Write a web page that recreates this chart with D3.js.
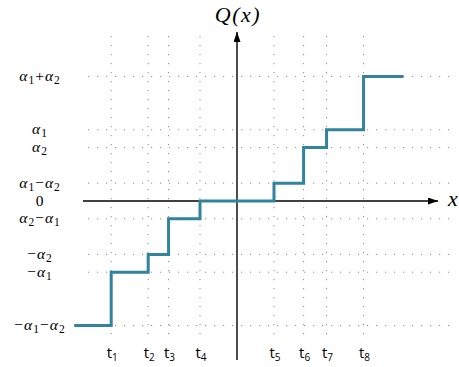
<!DOCTYPE html>
<html>
<head>
<meta charset="utf-8">
<script src="https://cdn.jsdelivr.net/npm/d3@7/dist/d3.min.js"></script>
<style>
  html, body { margin: 0; padding: 0; background: #fff; }
  svg { display: block; }
</style>
</head>
<body>
<svg id="chart" width="459" height="367"></svg>
<script>
// ---- data ----
const tLabels = ["1", "2", "3", "4", "5", "6", "7", "8"];          // subscripts of t
const tValues = [-3.4, -2.4, -1.85, -1.0, 1.0, 1.8, 2.42, 3.42];   // jump positions
const stepStart = -4.4;
const stepEnd = 4.5;
const levels = [-7, -4, -3, -1, 0, 1, 3, 4, 7];                  // Q between jumps (α1=4, α2=3)
const levelValues = [7, 4, 3, 1, 0, -1, -3, -4, -7];
const labelParts = {
  "7":  [["α","it"],["1","sub"],["+","n"],["α","it"],["2","sub"]],
  "4":  [["α","it"],["1","sub"]],
  "3":  [["α","it"],["2","sub"]],
  "1":  [["α","it"],["1","sub"],["−","n"],["α","it"],["2","sub"]],
  "0":  [["0","zero"]],
  "-1": [["α","it"],["2","sub"],["−","n"],["α","it"],["1","sub"]],
  "-3": [["−","n"],["α","it"],["2","sub"]],
  "-4": [["−","n"],["α","it"],["1","sub"]],
  "-7": [["−","n"],["α","it"],["1","sub"],["−","n"],["α","it"],["2","sub"]]
};

// ---- scales ----
const svg = d3.select("#chart");
const x = d3.scaleLinear().domain([-6, 6]).range([15, 459]);
const y = d3.scaleLinear().domain([-7, 7]).range([325.6, 76.4]);

const gridColor = "#8c8c8c";
const lineColor = "#31849b";

// horizontal dotted grid
svg.append("g").selectAll("line")
  .data(levelValues.filter(v => v !== 0))
  .join("line")
  .attr("x1", 88).attr("x2", 456)
  .attr("y1", d => y(d)).attr("y2", d => y(d))
  .attr("stroke", gridColor).attr("stroke-width", 1)
  .attr("stroke-dasharray", "1.2,7.8");

// vertical dotted grid
svg.append("g").selectAll("line")
  .data(tValues)
  .join("line")
  .attr("x1", d => x(d)).attr("x2", d => x(d))
  .attr("y1", 36).attr("y2", 341)
  .attr("stroke", gridColor).attr("stroke-width", 1)
  .attr("stroke-dasharray", "1.2,7.8");

// arrow marker
const defs = svg.append("defs");
defs.append("marker")
  .attr("id", "arrow")
  .attr("viewBox", "0 0 10 7")
  .attr("refX", 10).attr("refY", 3.5)
  .attr("markerWidth", 10).attr("markerHeight", 7)
  .attr("markerUnits", "userSpaceOnUse")
  .attr("orient", "auto")
  .append("path").attr("d", "M0,0 L10,3.5 L0,7 Z").attr("fill", "#000");

// axes
svg.append("line")
  .attr("x1", 83).attr("x2", 438)
  .attr("y1", y(0)).attr("y2", y(0))
  .attr("stroke", "#000").attr("stroke-width", 1.4)
  .attr("marker-end", "url(#arrow)");
svg.append("line")
  .attr("x1", x(0)).attr("x2", x(0))
  .attr("y1", 360).attr("y2", 32)
  .attr("stroke", "#000").attr("stroke-width", 1.4)
  .attr("marker-end", "url(#arrow)");

// step function
const pts = [[stepStart, levels[0]]];
tValues.forEach((t, i) => pts.push([t, levels[i + 1]]));
pts.push([stepEnd, levels[levels.length - 1]]);
svg.append("path")
  .datum(pts)
  .attr("fill", "none")
  .attr("stroke", lineColor)
  .attr("stroke-width", 3)
  .attr("stroke-linejoin", "miter")
  .attr("d", d3.line().x(d => x(d[0])).y(d => y(d[1])).curve(d3.curveStepAfter));

// level labels
const mathFont = "'Liberation Serif', 'DejaVu Serif', serif";
const lab = svg.append("g")
  .attr("font-family", mathFont)
  .attr("text-anchor", "middle");
levelValues.forEach(v => {
  const t = lab.append("text")
    .attr("x", 40).attr("y", y(v)).attr("dy", "0.3em")
    .attr("font-size", 15.5)
    .attr("letter-spacing", 1);
  labelParts[String(v)].forEach(([s, k]) => {
    const ts = t.append("tspan").text(s);
    if (k === "it") ts.attr("font-style", "italic");
    if (k === "sub") ts.attr("font-size", 11.5).attr("baseline-shift", "-25%");
  });
});

// t labels
const tl = svg.append("g")
  .attr("font-family", "'Open Sans', 'Liberation Sans', sans-serif")
  .attr("text-anchor", "middle");
tValues.forEach((tv, i) => {
  const t = tl.append("text")
    .attr("x", x(tv) + 1).attr("y", 358)
    .attr("font-size", 15);
  t.append("tspan").text("t");
  t.append("tspan").text(tLabels[i]).attr("font-size", 10).attr("baseline-shift", "-30%");
});

// axis titles
svg.append("text")
  .attr("x", x(0) + 1).attr("y", 22)
  .attr("text-anchor", "middle")
  .attr("font-family", mathFont).attr("font-style", "italic")
  .attr("font-size", 22).attr("letter-spacing", 1.5)
  .text("Q(x)");
svg.append("text")
  .attr("x", 453).attr("y", y(0) + 5)
  .attr("text-anchor", "middle")
  .attr("font-family", mathFont).attr("font-style", "italic")
  .attr("font-size", 22)
  .text("x");
</script>
</body>
</html>
